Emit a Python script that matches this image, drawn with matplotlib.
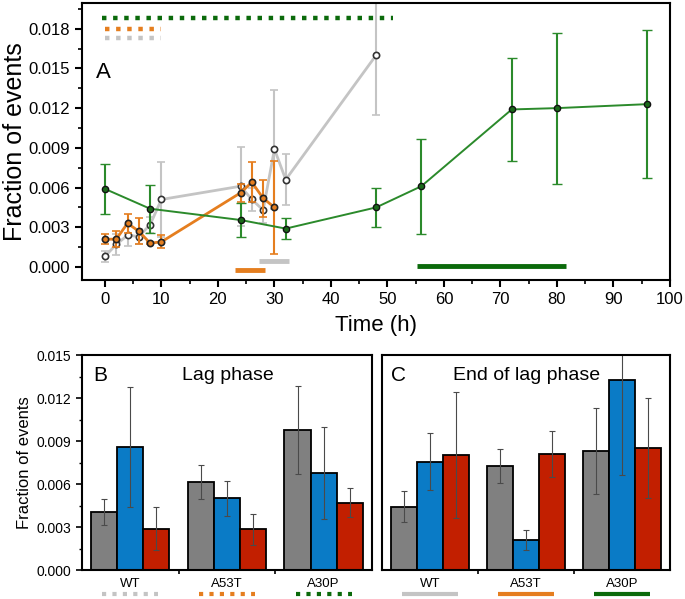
import matplotlib
matplotlib.use("Agg")
import matplotlib.pyplot as plt
import matplotlib.transforms as mtransforms
from matplotlib.ticker import MultipleLocator, FormatStrFormatter
import numpy as np

# ---- panel A: time courses ------------------------------------------------
wt_t = [0, 2, 4, 6, 8, 10, 24, 26, 28, 30, 32, 48]
wt_y = [0.0008, 0.0017, 0.0024, 0.0023, 0.0032, 0.0051, 0.0061, 0.0051, 0.0043, 0.0089, 0.0066, 0.0160]
wt_e = [0.0004, 0.0008, 0.0008, 0.0006, 0.0006, 0.0028, 0.0030, 0.0009, 0.0010, 0.0045, 0.0019, 0.0045]

a53_t = [0, 2, 4, 6, 8, 10, 24, 26, 28, 30]
a53_y = [0.0021, 0.0021, 0.0033, 0.0027, 0.0018, 0.0019, 0.0056, 0.0064, 0.0052, 0.0045]
a53_e = [0.0004, 0.0006, 0.0007, 0.0010, 0.0001, 0.0005, 0.0007, 0.0015, 0.0014, 0.0035]

a30_t = [0, 8, 24, 32, 48, 56, 72, 80, 96]
a30_y = [0.0059, 0.0044, 0.00355, 0.0029, 0.0045, 0.0061, 0.0119, 0.0120, 0.0123]
a30_e = [0.0019, 0.0018, 0.0013, 0.0008, 0.0015, 0.0036, 0.0039, 0.0057, 0.0056]

# phase windows (h): lag phase (dotted) and end of lag phase (solid)
lag_win = {"WT": (0, 10), "A53T": (0, 10), "A30P": (-0.5, 51)}
end_win = {"WT": (27.2, 32.5), "A53T": (23.1, 28.4), "A30P": (55.2, 81.6)}

# ---- panels B, C: bars ------------------------------------------------------
groups = ["WT", "A53T", "A30P"]
lag_grey = [0.00405, 0.00616, 0.00977]
lag_grey_e = [0.0009, 0.0012, 0.0031]
lag_blue = [0.0086, 0.0050, 0.00677]
lag_blue_e = [0.0042, 0.0012, 0.0032]
lag_red = [0.00288, 0.00284, 0.0047]
lag_red_e = [0.0015, 0.0011, 0.0010]

end_grey = [0.00442, 0.00726, 0.0083]
end_grey_e = [0.0011, 0.0012, 0.0030]
end_blue = [0.00756, 0.00207, 0.01326]
end_blue_e = [0.0020, 0.0007, 0.0066]
end_red = [0.00805, 0.00807, 0.00853]
end_red_e = [0.0044, 0.0016, 0.0035]

GREY_L, ORANGE, GREEN, DKGREEN = "#c4c4c4", "#e57e1f", "#2b8a2b", "#0b6a0b"
BAR_GREY, BAR_BLUE, BAR_RED = "#808080", "#0a7bc6", "#c21f00"
GRP_COL = {"WT": GREY_L, "A53T": ORANGE, "A30P": DKGREEN}

plt.rcParams.update({
    "font.family": ["Liberation Sans", "DejaVu Sans"],
    "axes.linewidth": 1.5,
    "xtick.direction": "out", "ytick.direction": "out",
})

fig = plt.figure(figsize=(6.85, 5.99), dpi=100)
axA = fig.add_axes([0.1197, 0.5326, 0.8583, 0.4624])
axB = fig.add_axes([0.1197, 0.0484, 0.4233, 0.3589])
axC = fig.add_axes([0.5577, 0.0484, 0.4203, 0.3589])

# ---- A ----
dash = (0, (1, 1.5))
axA.errorbar(wt_t, wt_y, yerr=wt_e, color=GREY_L, lw=2, elinewidth=1.5, capsize=3,
             capthick=1.5, marker="o", ms=4.5, mfc="white", mec="#333333", mew=1.2, zorder=2)
axA.errorbar(a53_t, a53_y, yerr=a53_e, color=ORANGE, lw=2, elinewidth=1.5, capsize=3,
             capthick=1.5, marker="o", ms=4.5, mfc=ORANGE, mec="#222222", mew=1.2, zorder=3)
axA.errorbar(a30_t, a30_y, yerr=a30_e, color=GREEN, lw=1.4, elinewidth=1.5, capsize=3.5,
             capthick=1.5, marker="o", ms=4.5, mfc="#1a6a1a", mec="#111111", mew=1.0, zorder=4)

for g, yy in zip(["A30P", "A53T", "WT"], [0.01878, 0.0180, 0.01727]):
    t0, t1 = lag_win[g]
    axA.plot([t0, t1], [yy, yy], color=GRP_COL[g], lw=3.2, ls=dash, solid_capstyle="butt")
for g, yy in zip(["A53T", "WT", "A30P"], [-0.00023, 0.00048, 0.0001]):
    t0, t1 = end_win[g]
    axA.plot([t0, t1], [yy, yy], color=GRP_COL[g], lw=3.5, solid_capstyle="butt")

axA.set_xlim(-4.06, 100)
axA.set_ylim(-0.00098, 0.01994)
axA.xaxis.set_major_locator(MultipleLocator(10))
axA.xaxis.set_minor_locator(MultipleLocator(5))
axA.yaxis.set_major_locator(MultipleLocator(0.003))
axA.yaxis.set_minor_locator(MultipleLocator(0.0015))
axA.yaxis.set_major_formatter(FormatStrFormatter("%.3f"))
axA.tick_params(which="major", length=5, width=1.5, labelsize=12)
axA.tick_params(which="minor", length=3, width=1.2)
axA.set_xlabel("Time (h)", fontsize=16, labelpad=6)
axA.set_ylabel("Fraction of events", fontsize=18)
axA.yaxis.set_label_coords(-0.094, 0.5)
axA.text(-1.6, 0.0147, "A", fontsize=16, va="center", ha="left")

# ---- B, C ----
x = np.arange(1, 4)
w = 0.27
bar_kw = dict(width=w, edgecolor="black", linewidth=1.3,
              error_kw=dict(ecolor="#4a4a4a", elinewidth=0.8, capsize=2, capthick=0.8))


def bars(ax, gy, ge, by, be, ry, re):
    ax.bar(x - w, gy, yerr=ge, color=BAR_GREY, **bar_kw)
    ax.bar(x, by, yerr=be, color=BAR_BLUE, **bar_kw)
    ax.bar(x + w, ry, yerr=re, color=BAR_RED, **bar_kw)
    ax.set_xlim(0.5, 3.5)
    ax.set_ylim(0, 0.015)
    ax.set_xticks(x)
    ax.set_xticklabels(groups, fontsize=9.5)
    ax.set_xticks([1.5, 2.5], minor=True)
    ax.tick_params(axis="x", which="major", length=0, pad=6)
    ax.tick_params(axis="x", which="minor", length=3, width=1.2)


bars(axB, lag_grey, lag_grey_e, lag_blue, lag_blue_e, lag_red, lag_red_e)
bars(axC, end_grey, end_grey_e, end_blue, end_blue_e, end_red, end_red_e)

axB.yaxis.set_major_locator(MultipleLocator(0.003))
axB.yaxis.set_minor_locator(MultipleLocator(0.0015))
axB.yaxis.set_major_formatter(FormatStrFormatter("%.3f"))
axB.tick_params(axis="y", which="major", length=4, width=1.2, labelsize=10)
axB.tick_params(axis="y", which="minor", length=2.5, width=1.0)
axB.set_ylabel("Fraction of events", fontsize=12)
axB.yaxis.set_label_coords(-0.172, 0.5)
axC.set_yticks([])

axB.text(0.038, 0.905, "B", transform=axB.transAxes, fontsize=15, va="center")
axB.text(0.503, 0.905, "Lag phase", transform=axB.transAxes, fontsize=14, va="center", ha="center")
axC.text(0.031, 0.905, "C", transform=axC.transAxes, fontsize=15, va="center")
axC.text(0.503, 0.905, "End of lag phase", transform=axC.transAxes, fontsize=14, va="center", ha="center")

for ax, style in ((axB, dash), (axC, "-")):
    tr = mtransforms.blended_transform_factory(ax.transData, ax.transAxes)
    for xi, g in zip(x, groups):
        ax.plot([xi - 0.29, xi + 0.29], [-0.112, -0.112], transform=tr, clip_on=False,
                color=GRP_COL[g], lw=3.0, ls=style, solid_capstyle="butt")

fig.savefig("out.png", dpi=100, facecolor="white")
